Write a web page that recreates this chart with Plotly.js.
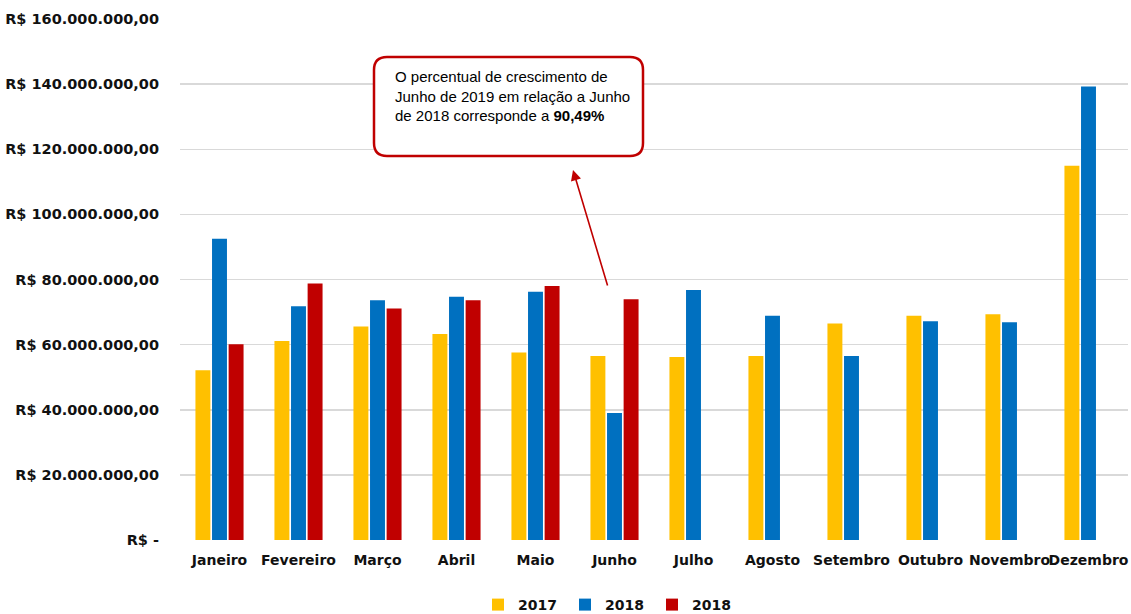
<!DOCTYPE html>
<html>
<head>
<meta charset="utf-8">
<script src="https://cdn.plot.ly/plotly-3.0.1.min.js"></script>
<style>html,body{margin:0;padding:0;background:#fff;}#chart{width:1131px;height:614px;}</style>
</head>
<body>
<div id="chart"></div>
<script>
const months = ["Janeiro","Fevereiro","Março","Abril","Maio","Junho","Julho","Agosto","Setembro","Outubro","Novembro","Dezembro"];
const values2017 = [52.1, 61.1, 65.6, 63.3, 57.6, 56.5, 56.2, 56.5, 66.5, 68.9, 69.3, 114.9].map(v => v * 1e6);
const values2018 = [92.5, 71.8, 73.6, 74.7, 76.2, 39.0, 76.8, 68.9, 56.5, 67.2, 66.9, 139.3].map(v => v * 1e6);
const values2019 = [60.1, 78.8, 71.1, 73.6, 78.0, 73.9, null, null, null, null, null, null].map(v => v === null ? null : v * 1e6);
const seriesNames = ["2017", "2018", "2018"];
const tickVals = [0, 20e6, 40e6, 60e6, 80e6, 100e6, 120e6, 140e6, 160e6];
const tickText = ["R$ -", "R$ 20.000.000,00", "R$ 40.000.000,00", "R$ 60.000.000,00", "R$ 80.000.000,00", "R$ 100.000.000,00", "R$ 120.000.000,00", "R$ 140.000.000,00", "R$ 160.000.000,00"];
const noteText = "O percentual de crescimento de<br>Junho de 2019 em relação a Junho<br>de 2018 corresponde a <b>90,49%</b>";

const colors = ["#FFC000", "#0070C0", "#C00000"];
const data = [values2017, values2018, values2019].map((vals, i) => ({
  type: "bar",
  x: months,
  y: vals,
  name: seriesNames[i],
  marker: {color: colors[i], line: {width: 0}},
  hoverinfo: "x+y"
}));

// rounded rectangle in paper coords
const L = 180, R = 1128, T = 19, B = 540;
const W = R - L, H = B - T;
function px(x) { return (x - L) / W; }
function py(y) { return (B - y) / H; }
const bx0 = 374, bx1 = 643, by0 = 57, by1 = 156, r = 13;
const p = [
  `M ${px(bx0 + r)} ${py(by0)}`,
  `L ${px(bx1 - r)} ${py(by0)}`,
  `Q ${px(bx1)} ${py(by0)} ${px(bx1)} ${py(by0 + r)}`,
  `L ${px(bx1)} ${py(by1 - r)}`,
  `Q ${px(bx1)} ${py(by1)} ${px(bx1 - r)} ${py(by1)}`,
  `L ${px(bx0 + r)} ${py(by1)}`,
  `Q ${px(bx0)} ${py(by1)} ${px(bx0)} ${py(by1 - r)}`,
  `L ${px(bx0)} ${py(by0 + r)}`,
  `Q ${px(bx0)} ${py(by0)} ${px(bx0 + r)} ${py(by0)}`,
  "Z"
].join(" ");

const layout = {
  width: 1131, height: 614,
  margin: {l: L, r: 1131 - R, t: T, b: 614 - B, autoexpand: false},
  paper_bgcolor: "#fff", plot_bgcolor: "#fff",
  barmode: "group",
  bargap: 0.37,
  bargroupgap: 0.1,
  showlegend: true,
  font: {family: "DejaVu Sans", color: "#1a1a1a"},
  xaxis: {
    type: "category",
    automargin: false,
    tickangle: 0,
    showgrid: false, zeroline: false, showline: false,
    ticks: "",
    tickfont: {family: "DejaVu Sans", size: 14, weight: "bold", color: "#111"},
    ticklabelstandoff: 10
  },
  yaxis: {
    automargin: false,
    range: [0, 160e6],
    tickvals: tickVals, ticktext: tickText,
    showgrid: true, gridcolor: "#D9D9D9", gridwidth: 1.5,
    zeroline: false, showline: false, ticks: "",
    tickfont: {family: "DejaVu Sans", size: 14.5, weight: "bold", color: "#111"},
    ticklabelstandoff: 20
  },
  legend: {
    orientation: "h",
    x: px(478), xanchor: "left",
    y: py(605), yanchor: "middle",
    font: {family: "DejaVu Sans", size: 14, weight: "bold", color: "#111"},
    itemwidth: 30,
    entrywidth: 42,
    tracegroupgap: 0,
    bgcolor: "rgba(0,0,0,0)"
  },
  shapes: [{
    type: "path", xref: "paper", yref: "paper",
    path: p,
    fillcolor: "#fff",
    line: {color: "#C00000", width: 2.5},
    layer: "above"
  }],
  annotations: [
    {
      xref: "paper", yref: "paper",
      x: px(393), y: py(66),
      xanchor: "left", yanchor: "top",
      align: "left",
      text: noteText,
      showarrow: false,
      font: {family: "Liberation Sans", size: 15, color: "#000"}
    },
    {
      xref: "paper", yref: "paper",
      x: px(573), y: py(170),
      ax: 35, ay: 117,
      text: "",
      showarrow: true,
      arrowhead: 2, arrowsize: 1.3, arrowwidth: 1.6,
      arrowcolor: "#C00000"
    }
  ]
};

Plotly.newPlot("chart", data, layout, {displayModeBar: false, staticPlot: true});
</script>
</body>
</html>
